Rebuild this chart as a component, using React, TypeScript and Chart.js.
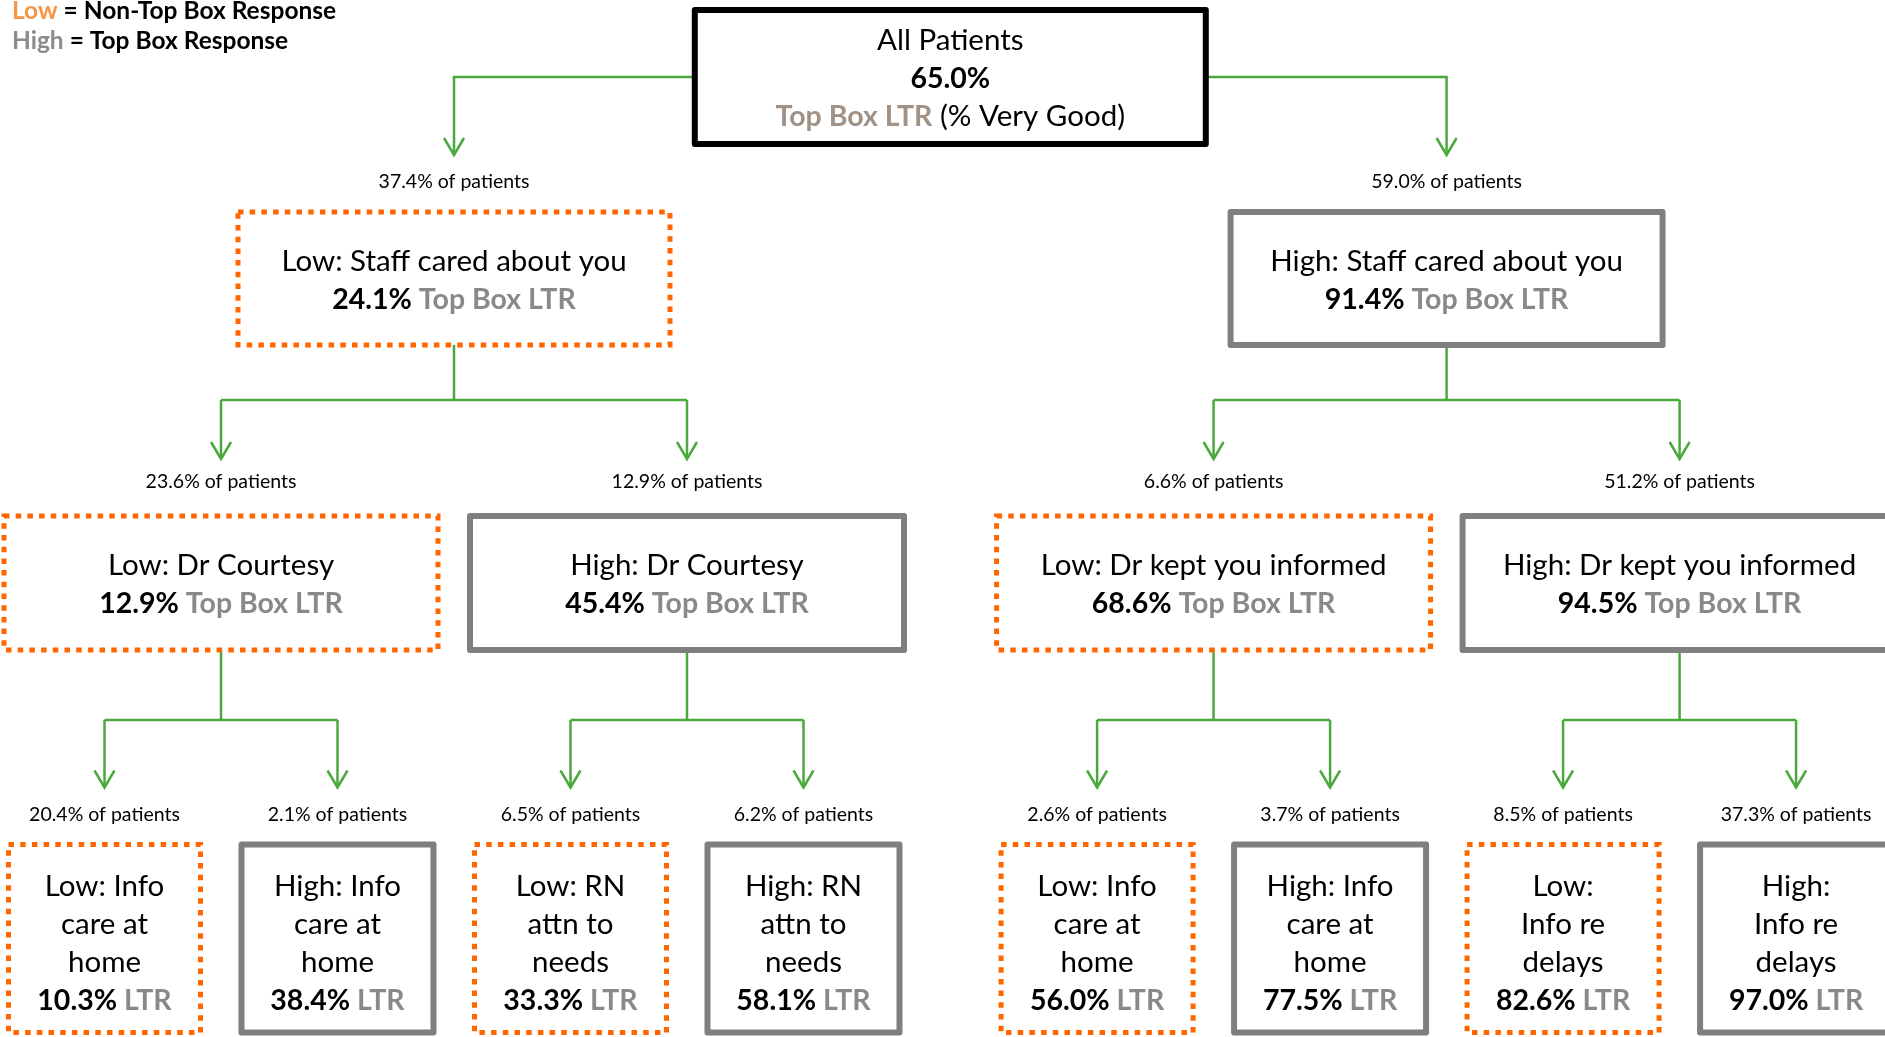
import React, { useEffect, useRef } from "react";
import { Chart, registerables } from "chart.js";

Chart.register(...registerables);

// ---------------- DATA ----------------
const nodeLabels: string[] = [
  "All Patients",
  "Low: Staff cared about you",
  "High: Staff cared about you",
  "Low: Dr Courtesy",
  "High: Dr Courtesy",
  "Low: Dr kept you informed",
  "High: Dr kept you informed",
  "Low: Info\ncare at\nhome",
  "High: Info\ncare at\nhome",
  "Low: RN\nattn to\nneeds",
  "High: RN\nattn to\nneeds",
  "Low: Info\ncare at\nhome",
  "High: Info\ncare at\nhome",
  "Low:\nInfo re\ndelays",
  "High:\nInfo re\ndelays",
];
const nodeParents: number[] = [-1, 0, 0, 1, 1, 2, 2, 3, 3, 4, 4, 5, 5, 6, 6];
const topBoxLTR: number[] = [65.0, 24.1, 91.4, 12.9, 45.4, 68.6, 94.5, 10.3, 38.4, 33.3, 58.1, 56.0, 77.5, 82.6, 97.0];
const shareOfPatients: number[] = [100, 37.4, 59.0, 23.6, 12.9, 6.6, 51.2, 20.4, 2.1, 6.5, 6.2, 2.6, 3.7, 8.5, 37.3];
const legendKeys: string[] = ["Low", "High"];
const legendMeanings: string[] = [" = Non-Top Box Response", " = Top Box Response"];

// ---------------- LAYOUT / STYLE ----------------
const W = 1885;
const H = 1037;
const FONT = "Lato, 'Open Sans', sans-serif";
const BOX_FONT = 29.5;
const BOX_BOLD_FONT = 28.5;
const LABEL_FONT = 19.5;
const LEGEND_FONT = 24.5;
const LINE_H = 38;

const LEVEL_TOP = [10, 212, 516, 844.5];
const LEVEL_W = [511, 432, 434, 192];
const LEVEL_H = [134, 133, 134, 188];
const TEXT_SHIFT = [11, 11, 11, 14];
const BRANCH_Y = [77, 400, 720]; // elbow y for children of level i
const LABEL_GAP = [0, 24, 28, 24];
const TIP_GAP = 57;
const SLOT_PX = 233;
const SLOT0_PX = 104.5;
const GROUP_GAP = 0.26;

const GREEN = "#4aa83c";
const ORANGE = "#ff6600";
const GRAY_BORDER = "#7f7f7f";
const GRAY_TEXT = "#898989";
const TAN_TEXT = "#a09286";

// derived tree structure
const n = nodeLabels.length;
const level: number[] = nodeParents.map(() => 0);
for (let i = 0; i < n; i++) level[i] = nodeParents[i] < 0 ? 0 : level[nodeParents[i]] + 1;
const children: number[][] = nodeParents.map(() => []);
nodeParents.forEach((p, i) => { if (p >= 0) children[p].push(i); });
const nodeX: number[] = nodeParents.map(() => 0);
let leafIdx = 0;
for (let i = 0; i < n; i++) {
  if (children[i].length === 0) {
    const half = leafIdx >= 4 ? GROUP_GAP : 0;
    nodeX[i] = leafIdx + half;
    leafIdx++;
  }
}
for (let i = n - 1; i >= 0; i--) {
  if (children[i].length) nodeX[i] = children[i].reduce((s, c) => s + nodeX[c], 0) / children[i].length;
}
const nodeY: number[] = level.map((l) => LEVEL_TOP[l] + LEVEL_H[l] / 2);

type Seg = { t: string; bold?: boolean; color?: string };

function fontFor(s: Seg, size: number, boldSize: number) {
  return s.bold ? `bold ${boldSize}px ${FONT}` : `${size}px ${FONT}`;
}

function drawRich(ctx: CanvasRenderingContext2D, segs: Seg[], cx: number, baseline: number, size: number, boldSize: number) {
  let total = 0;
  const widths = segs.map((s) => {
    ctx.font = fontFor(s, size, boldSize);
    const w = ctx.measureText(s.t).width;
    total += w;
    return w;
  });
  let x = cx - total / 2;
  ctx.textAlign = "left";
  ctx.textBaseline = "alphabetic";
  segs.forEach((s, k) => {
    ctx.font = fontFor(s, size, boldSize);
    ctx.fillStyle = s.color || "#000";
    ctx.fillText(s.t, x, baseline);
    x += widths[k];
  });
}

function arrow(ctx: CanvasRenderingContext2D, x: number, tip: number) {
  ctx.beginPath();
  ctx.moveTo(x - 10, tip - 17);
  ctx.lineTo(x, tip);
  ctx.lineTo(x + 10, tip - 17);
  ctx.stroke();
}

const treePlugin = {
  id: "tree",
  afterDatasetsDraw(chart: any) {
    const ctx: CanvasRenderingContext2D = chart.ctx;
    const pts = chart.getDatasetMeta(0).data;
    const ys = chart.scales.y;
    ctx.save();
    // connectors
    ctx.strokeStyle = GREEN;
    ctx.lineWidth = 2.5;
    ctx.lineCap = "butt";
    ctx.lineJoin = "miter";
    ctx.setLineDash([]);
    for (let p = 0; p < n; p++) {
      const ch = children[p];
      if (!ch.length) continue;
      const l = level[p];
      const pc = pts[p];
      const bw = LEVEL_W[l];
      const bh = LEVEL_H[l];
      const elbow = ys.getPixelForValue(BRANCH_Y[l]);
      if (l === 0) {
        ch.forEach((c) => {
          const cc = pts[c];
          const tip = ys.getPixelForValue(LEVEL_TOP[level[c]] - TIP_GAP);
          const side = cc.x < pc.x ? pc.x - bw / 2 : pc.x + bw / 2;
          ctx.beginPath();
          ctx.moveTo(side, elbow);
          ctx.lineTo(cc.x, elbow);
          ctx.lineTo(cc.x, tip);
          ctx.stroke();
          arrow(ctx, cc.x, tip);
        });
      } else {
        ctx.beginPath();
        ctx.moveTo(pc.x, pc.y + bh / 2);
        ctx.lineTo(pc.x, elbow);
        ctx.stroke();
        const xsCh = ch.map((c) => pts[c].x);
        ctx.beginPath();
        ctx.moveTo(Math.min(...xsCh), elbow);
        ctx.lineTo(Math.max(...xsCh), elbow);
        ctx.stroke();
        ch.forEach((c) => {
          const tip = ys.getPixelForValue(LEVEL_TOP[level[c]] - TIP_GAP);
          ctx.beginPath();
          ctx.moveTo(pts[c].x, elbow);
          ctx.lineTo(pts[c].x, tip);
          ctx.stroke();
          arrow(ctx, pts[c].x, tip);
        });
      }
    }
    // boxes + texts
    for (let i = 0; i < n; i++) {
      const l = level[i];
      const cx = pts[i].x;
      const cy = pts[i].y;
      const w = LEVEL_W[l];
      const h = LEVEL_H[l];
      const isLow = nodeLabels[i].startsWith("Low");
      ctx.fillStyle = "#fff";
      ctx.fillRect(cx - w / 2, cy - h / 2, w, h);
      if (l === 0) {
        ctx.setLineDash([]);
        ctx.strokeStyle = "#000";
        ctx.lineWidth = 6;
        ctx.lineJoin = "round";
      } else if (isLow) {
        ctx.setLineDash([5.5, 6.2]);
        ctx.strokeStyle = ORANGE;
        ctx.lineWidth = 5;
        ctx.lineJoin = "miter";
      } else {
        ctx.setLineDash([]);
        ctx.strokeStyle = GRAY_BORDER;
        ctx.lineWidth = 6;
        ctx.lineJoin = "round";
      }
      ctx.strokeRect(cx - w / 2, cy - h / 2, w, h);
      ctx.setLineDash([]);

      const lines: Seg[][] = [];
      if (l === 0) {
        lines.push([{ t: nodeLabels[i] }]);
        lines.push([{ t: `${topBoxLTR[i].toFixed(1)}%`, bold: true }]);
        lines.push([{ t: "Top Box LTR", bold: true, color: TAN_TEXT }, { t: " (% Very Good)" }]);
      } else {
        nodeLabels[i].split("\n").forEach((s) => lines.push([{ t: s }]));
        lines.push([
          { t: `${topBoxLTR[i].toFixed(1)}%`, bold: true },
          { t: children[i].length ? " Top Box LTR" : " LTR", bold: true, color: GRAY_TEXT },
        ]);
      }
      const m = lines.length;
      lines.forEach((segs, k) => {
        const base = cy + (k - (m - 1) / 2) * LINE_H + TEXT_SHIFT[l];
        drawRich(ctx, segs, cx, base, BOX_FONT, BOX_BOLD_FONT);
      });

      if (l > 0) {
        const lb = ys.getPixelForValue(LEVEL_TOP[l] - LABEL_GAP[l]);
        drawRich(ctx, [{ t: `${shareOfPatients[i].toFixed(1)}% of patients` }], cx, lb, LABEL_FONT, LABEL_FONT);
      }
    }
    // legend
    const legendColors = ["#f79646", "#8c8c8c"];
    legendKeys.forEach((k, j) => {
      ctx.textAlign = "left";
      ctx.textBaseline = "alphabetic";
      ctx.font = `bold ${LEGEND_FONT}px ${FONT}`;
      const y = 19 + j * 30;
      ctx.fillStyle = legendColors[j];
      ctx.fillText(k, 12, y);
      const kw = ctx.measureText(k).width;
      ctx.fillStyle = "#000";
      ctx.fillText(legendMeanings[j], 12 + kw, y);
    });
    ctx.restore();
  },
};

export default function App() {
  const ref = useRef<HTMLCanvasElement | null>(null);
  useEffect(() => {
    if (!ref.current) return;
    const chart = new Chart(ref.current, {
      type: "scatter",
      data: {
        datasets: [
          {
            data: nodeX.map((x, i) => ({ x, y: nodeY[i] })),
            pointRadius: 0,
            pointHoverRadius: 0,
          },
        ],
      },
      options: {
        responsive: false,
        animation: false,
        layout: { padding: 0 },
        events: [],
        plugins: { legend: { display: false }, tooltip: { enabled: false } },
        scales: {
          x: { type: "linear", display: false, min: -SLOT0_PX / SLOT_PX, max: (W - SLOT0_PX) / SLOT_PX },
          y: { type: "linear", display: false, min: 0, max: H, reverse: true },
        },
      },
      plugins: [treePlugin],
    });
    return () => chart.destroy();
  }, []);
  return (
    <div style={{ position: "fixed", left: 0, top: 0, width: W, height: H, background: "#fff" }}>
      <canvas ref={ref} width={W} height={H} style={{ display: "block" }} />
    </div>
  );
}
